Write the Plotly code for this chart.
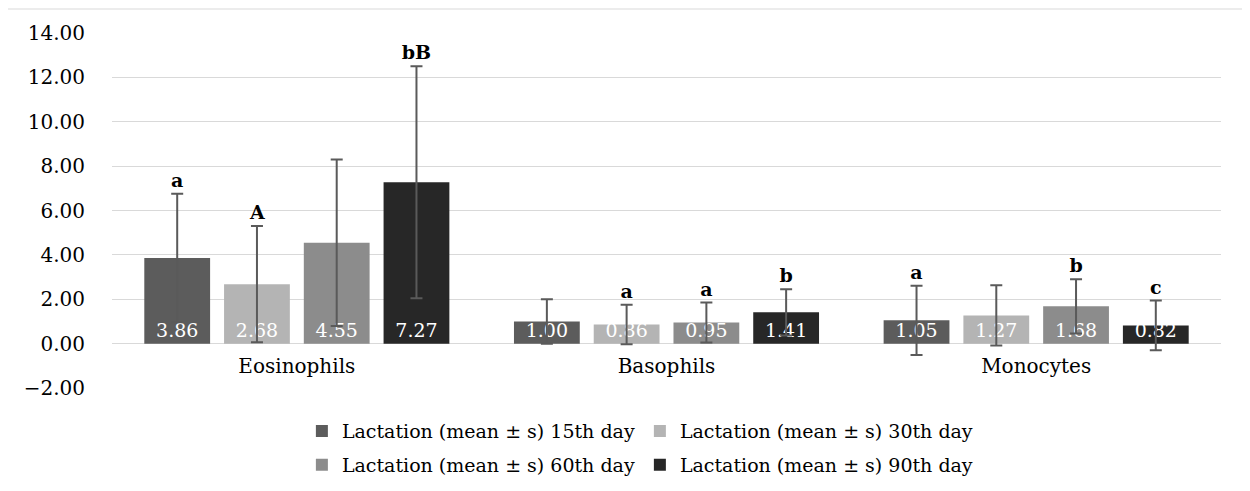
import plotly.graph_objects as go

categories = ["Eosinophils", "Basophils", "Monocytes"]
series_names = [
    "Lactation (mean ± s) 15th day",
    "Lactation (mean ± s) 30th day",
    "Lactation (mean ± s) 60th day",
    "Lactation (mean ± s) 90th day",
]
means = [
    [3.86, 1.00, 1.05],
    [2.68, 0.86, 1.27],
    [4.55, 0.95, 1.68],
    [7.27, 1.41, 0.82],
]
errors = [
    [2.90, 1.00, 1.56],
    [2.62, 0.89, 1.36],
    [3.75, 0.90, 1.22],
    [5.23, 1.04, 1.12],
]
letters = [
    ["a", "", "a"],
    ["A", "a", ""],
    ["", "a", "b"],
    ["bB", "b", "c"],
]
colors = ["#5c5c5c", "#b4b4b4", "#8c8c8c", "#272727"]
y_ticks = [-2, 0, 2, 4, 6, 8, 10, 12, 14]
y_range = [-2, 14]

FONT = "DejaVu Serif"
FS = 19

fig = go.Figure()
legends = ["legend", "legend", "legend2", "legend2"]
for i, name in enumerate(series_names):
    fig.add_trace(go.Bar(
        x=categories, y=means[i], name=name, offsetgroup=str(i),
        marker=dict(color=colors[i], line=dict(width=0)),
        error_y=dict(type="data", array=errors[i], visible=True,
                     color="#5a5a5a", thickness=2, width=6),
        text=[f"{v:.2f}" for v in means[i]],
        textposition="inside", insidetextanchor="start",
        constraintext="none",
        textfont=dict(family=FONT, size=FS, color="white"),
        legend=legends[i],
    ))
for i, name in enumerate(series_names):
    tops = [m + e for m, e in zip(means[i], errors[i])]
    fig.add_trace(go.Bar(
        x=categories, y=tops, offsetgroup=str(i), showlegend=False,
        marker=dict(color="rgba(0,0,0,0)", line=dict(width=0)),
        text=letters[i], textposition="outside", constraintext="none",
        cliponaxis=False, hoverinfo="skip",
        textfont=dict(family=FONT, size=FS, color="black", weight="bold"),
    ))

zero_pos = (0 - y_range[0]) / (y_range[1] - y_range[0])

fig.update_layout(
    width=1234, height=475,
    margin=dict(l=104, r=21, t=25, b=95, autoexpand=False),
    paper_bgcolor="white", plot_bgcolor="white",
    barmode="group", bargap=0.137, bargroupgap=0.175,
    font=dict(family=FONT, size=FS, color="black"),
    xaxis=dict(anchor="free", position=zero_pos, showline=False,
               showgrid=False, ticks="", ticklabelstandoff=8,
               tickfont=dict(size=FS + 1), automargin=False),
    yaxis=dict(range=y_range, tickvals=y_ticks, tickformat=".2f",
               showgrid=True, gridcolor="#d9d9d9", gridwidth=1.3,
               zeroline=True, zerolinecolor="#d9d9d9", zerolinewidth=1.3,
               showline=False, ticks="", ticklabelstandoff=26,
               tickfont=dict(size=FS + 1), automargin=False),
    legend=dict(orientation="h", x=0.476, xanchor="center", y=-0.068,
                yanchor="top", font=dict(size=FS), itemwidth=30,
                tracegroupgap=0, bgcolor="rgba(0,0,0,0)"),
    legend2=dict(orientation="h", x=0.476, xanchor="center", y=-0.163,
                 yanchor="top", font=dict(size=FS), itemwidth=30,
                 bgcolor="rgba(0,0,0,0)"),
    showlegend=True,
    shapes=[dict(type="rect", xref="paper", yref="paper",
                 x0=-0.0965, x1=1.1, y0=-0.5, y1=1.0676,
                 line=dict(color="#d9d9d9", width=1), layer="below")],
)

fig.write_html("out.html")
